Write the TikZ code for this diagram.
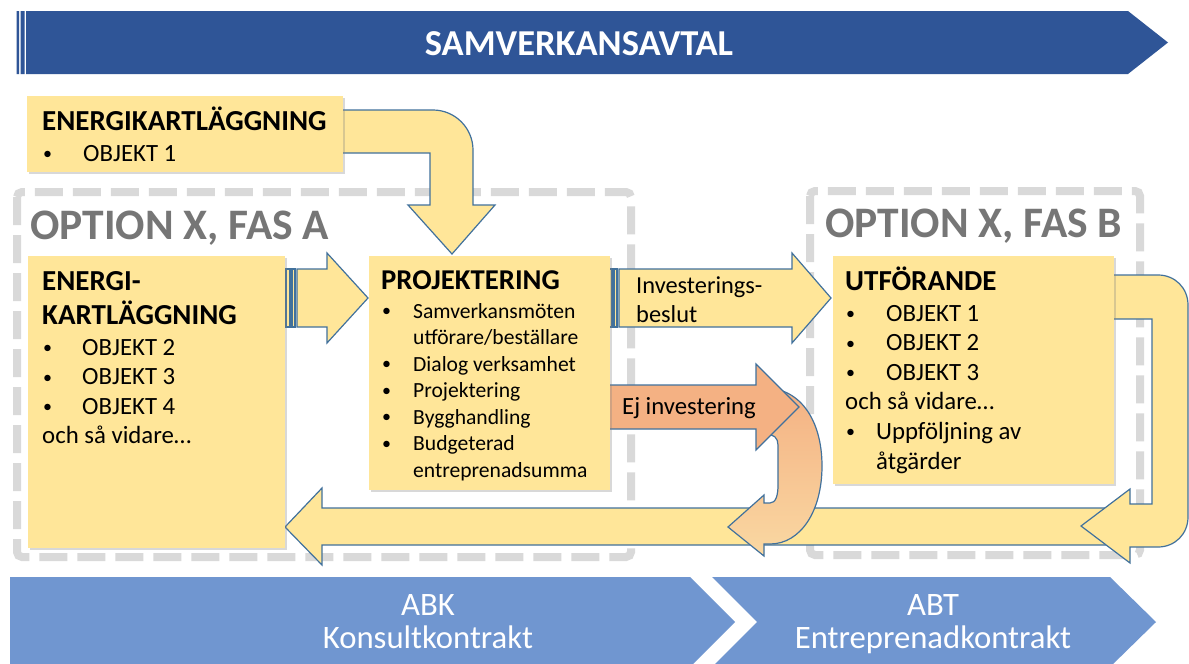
\documentclass[tikz,border=0pt]{standalone}
\usepackage{fontspec}
\setmainfont{Carlito}
\usetikzlibrary{shapes,arrows}
\usetikzlibrary{positioning}
\usetikzlibrary{shadows}
\definecolor{bannerblue}{RGB}{47,85,151}
\definecolor{chevblue}{RGB}{112,150,208}
\definecolor{boxyellow}{RGB}{255,230,153}
\definecolor{edgeblue}{RGB}{65,113,156}
\definecolor{ejorange}{RGB}{244,177,131}
\definecolor{ejlight}{RGB}{250,216,162}
\definecolor{dashgray}{RGB}{217,217,217}
\definecolor{optgray}{RGB}{118,118,118}
\tikzstyle{box} = [fill=boxyellow, inner sep=0pt, anchor=north west,
drop shadow={shadow xshift=2pt, shadow yshift=-2pt, opacity=.3}]
\tikzstyle{blockarrow} = [draw=edgeblue, line width=1.2pt, fill=boxyellow]
\tikzstyle{optbox} = [draw=dashgray, line width=8pt, dash pattern=on 28pt off 10pt, rounded corners=5pt]
\newcommand{\bul}[1]{\makebox[#1][l]{\hspace{1pt}\raisebox{1.5pt}{\fontsize{18}{18}\selectfont\textbullet}}}
\newcommand{\boxhead}[2][29]{\smash{\textbf{\fontsize{#1}{30}\selectfont #2}}}

\begin{document}
\begin{tikzpicture}[x=1pt, y=-1pt,
	txt/.style={anchor=base west, inner sep=0pt, font=\fontsize{24.8}{29.6}\selectfont},
	opt/.style={anchor=base west, inner sep=0pt, text=optgray, font=\bfseries\fontsize{43.5}{46}\selectfont},
	chev/.style={fill=chevblue},
	chevtxt/.style={inner sep=0pt, anchor=base, text=white, font=\fontsize{32.7}{33}\selectfont}]
	\path[use as bounding box, fill=white] (0,0) rectangle (1189,664);
	%% Banner and contracts
	\fill[bannerblue] (16.5,11) rectangle (19,74) (20.5,11) rectangle (24.5,74);
	\fill[bannerblue] (26,11) -- (1128,11) -- (1168,42.5) -- (1128,74) -- (26,74) -- cycle;
	\node[inner sep=0pt, anchor=base, text=white, font=\bfseries\fontsize{36.5}{38}\selectfont] (avtal) at (579,55) {SAMVERKANSAVTAL};
	\fill[chev] (10,577) -- (690,577) -- (735,622) -- (690,667) -- (10,667) -- cycle;
	\fill[chev] (712,577) -- (1110,577) -- (1156,622) -- (1110,667) -- (712,667) -- (757,622) -- cycle;
	\node[chevtxt] (abk) at (428,615) {\begin{tabular}[t]{@{}c@{}}ABK\\Konsultkontrakt\end{tabular}};
	\node[chevtxt] (abt) at (933,615) {\begin{tabular}[t]{@{}c@{}}ABT\\Entreprenadkontrakt\end{tabular}};
	%% Options
	\draw[optbox] (17,192) rectangle (631,557);
	\draw[optbox] (810,191) rectangle (1140,555);
	\node[opt] (fasA) at (30,239) {OPTION X, FAS A};
	\node[opt] (fasB) at (825,237) {OPTION X, FAS B};
	%% Flows
	\path[blockarrow] (330,110) -- (433,110) .. controls (455,110) and (473,128) .. (473,150)
	-- (473,205) -- (495,205) -- (452,254) -- (408,205) -- (430,205) -- (430,153) -- (330,153) -- cycle;
	\path[blockarrow] (285,527) -- (322,488) -- (322,508) -- (1110,508) -- (1110,545) -- (322,545) -- (322,565) -- cycle;
	\path[blockarrow] (1100,275) -- (1158,275) .. controls (1175,275) and (1188,288) .. (1188,305)
	-- (1188,517) .. controls (1188,534) and (1175,547) .. (1158,547) -- (1130,547) -- (1130,563)
	-- (1081,526) -- (1130,489) -- (1130,504) -- (1152,504) -- (1152,319) -- (1100,319) -- cycle;
	\path[draw=edgeblue, line width=1.2pt, top color=ejorange, bottom color=ejlight]
	(765,388) .. controls (800,388) and (822,420) .. (822,466) .. controls (822,512) and (800,544) .. (770,544)
	-- (764,544) -- (764,556) -- (728,527) -- (764,495) -- (764,503) -- (770,503)
	.. controls (776,503) and (778,495) .. (778,485) -- (778,445) .. controls (778,438) and (774,434) .. (765,434) -- cycle;
	\path[blockarrow, fill=ejorange] (600,385) -- (756,385) -- (756,364) -- (799,407) -- (756,450) -- (756,429) -- (600,429) -- cycle;
	\path[blockarrow] (286,269) rectangle (290,327) (292,269) rectangle (295,327);
	\path[blockarrow] (297,269) -- (327,269) -- (327,253) -- (368,298) -- (327,343) -- (327,327) -- (297,327) -- cycle;
	\path[blockarrow] (609,269) rectangle (612,327) (614,269) rectangle (617,327);
	\path[blockarrow] (619,269) -- (792,269) -- (792,253) -- (831,298) -- (792,343) -- (792,327) -- (619,327) -- cycle;
	\node[txt, font=\fontsize{24.4}{29}\selectfont] (beslut) at (636,293) {\begin{tabular}[t]{@{}l@{}}Investerings-\\beslut\end{tabular}};
	\node[txt, font=\fontsize{24.7}{29}\selectfont] (ej) at (622,414) {Ej investering};
	%% Boxes
	\node[box, minimum width=316pt, minimum height=76pt] (kartl1) at (27,96) {};
	\node[box, minimum width=257pt, minimum height=292pt] (kartl) at (28,256) {};
	\node[box, minimum width=241pt, minimum height=234pt, right=83pt of kartl.north east, anchor=north west] (proj) {};
	\node[box, minimum width=281pt, minimum height=228pt, right=223pt of proj.north east, anchor=north west] (utf) {};
	\node[txt] (kartl1txt) at (42,130) {\begin{tabular}[t]{@{}l@{}}\boxhead{ENERGIKARTLÄGGNING}\\[1.4pt]
		\bul{41pt}OBJEKT 1\end{tabular}};
	\node[txt] (kartltxt) at (42,290) {\begin{tabular}[t]{@{}l@{}}\boxhead{ENERGI-}\\[4.4pt]
		\boxhead{KARTLÄGGNING}\\[1.4pt]
		\bul{40pt}OBJEKT 2\\ \bul{40pt}OBJEKT 3\\ \bul{40pt}OBJEKT 4\\ och så vidare…\end{tabular}};
	\node[txt, font=\fontsize{21.6}{26.5}\selectfont] (projtxt) at (381,289) {\begin{tabular}[t]{@{}l@{}}\boxhead[28.7]{PROJEKTERING}\\[2.5pt]
		\bul{32pt}Samverkansmöten\\ \hspace{32pt}utförare/beställare\\ \bul{32pt}Dialog verksamhet\\ \bul{32pt}Projektering\\
		\bul{32pt}Bygghandling\\ \bul{32pt}Budgeterad\\ \hspace{32pt}entreprenadsumma\end{tabular}};
	\node[txt] (utftxt) at (845,290) {\begin{tabular}[t]{@{}l@{}}\boxhead{UTFÖRANDE}\\[1.4pt]
		\bul{41pt}OBJEKT 1\\ \bul{41pt}OBJEKT 2\\ \bul{41pt}OBJEKT 3\\ och så vidare…\\
		\bul{31pt}Uppföljning av\\ \hspace{31pt}åtgärder\end{tabular}};
\end{tikzpicture}
\end{document}
